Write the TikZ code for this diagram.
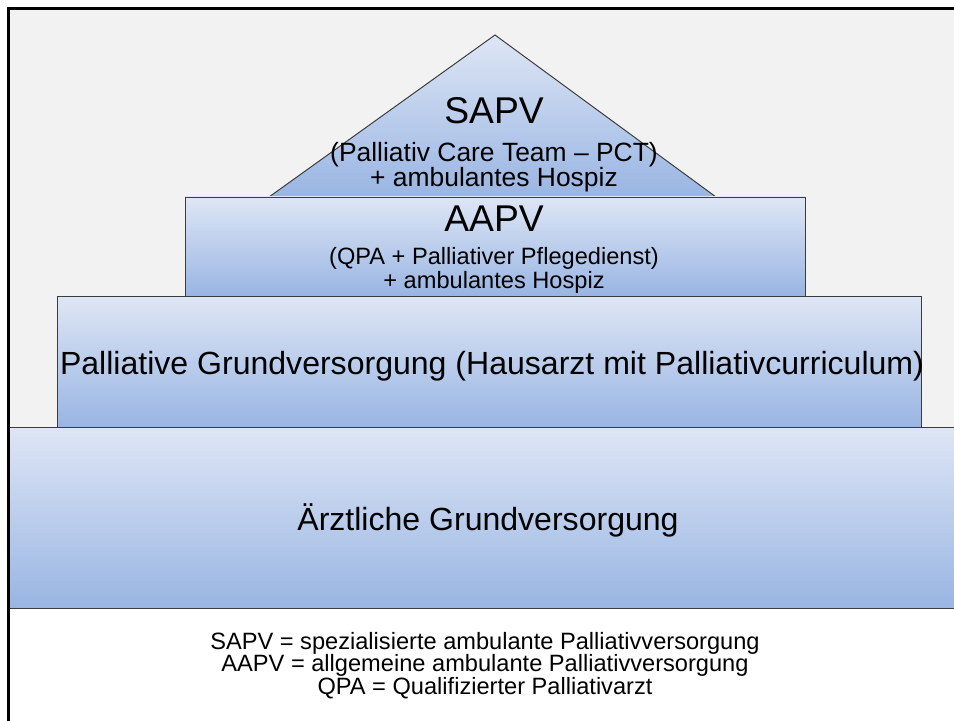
\documentclass[tikz,border=0pt]{standalone}
\usepackage{fontspec}
\setmainfont{Liberation Sans}
\usetikzlibrary{positioning}

\definecolor{slidegray}{RGB}{242,242,242}
\definecolor{layertop}{RGB}{222,230,245}
\definecolor{layerbottom}{RGB}{153,181,227}
\definecolor{layeredge}{RGB}{60,60,60}

\tikzset{
  layer/.style={draw=layeredge, line width=0.7pt, top color=layertop, bottom color=layerbottom, inner sep=0pt},
  layertext/.style={anchor=base, align=center, text=black, inner sep=0pt},
}

\begin{document}
\begin{tikzpicture}
        \useasboundingbox (0,0) rectangle (23.85,18);

        % Slide background
        \fill[slidegray] (0.2125,2.8) rectangle (24.5,17.8);

        % Roof (SAPV)
        \coordinate (apex) at (12.375,17.125);
        \coordinate (roofl) at (6.725,13.075);
        \coordinate (roofr) at (17.9,13.075);
        \draw[layer, line join=miter] (roofl) -- (apex) -- (roofr) -- cycle;

        % Levels of the pyramid
        \node[layer, minimum width=15.5cm, minimum height=2.475cm] (aapv) at (12.375,11.8375) {};
        \node[layer, minimum width=21.6cm, minimum height=3.275cm] (pgv) at (12.225,8.9625) {};
        \node[layer, minimum width=23.95cm, minimum height=4.525cm] (aegv) at (12.2,5.0625) {};

        % Labels (base = last line)
        \node[layertext, font=\fontsize{18.8}{17.8}\selectfont] (sapvlbl) at (12.35,13.325)
            {{\fontsize{26.5}{30}\selectfont SAPV}\\[9.9pt] (Palliativ Care Team – PCT)\\ + ambulantes Hospiz};
        \node[layertext, font=\fontsize{16.8}{16.4}\selectfont] (aapvlbl) at (12.35,10.8)
            {{\fontsize{26.5}{30}\selectfont AAPV}\\[7.1pt] (QPA + Palliativer Pflegedienst)\\ + ambulantes Hospiz};
        \node[layertext, font=\fontsize{22.8}{27}\selectfont] (pgvlbl) at (12.3,8.65)
            {Palliative Grundversorgung (Hausarzt mit Palliativcurriculum)};
        \node[layertext, font=\fontsize{22.8}{27}\selectfont] (aegvlbl) at (12.2,4.75)
            {Ärztliche Grundversorgung};

        % Legend
        \node[layertext, font=\fontsize{16.8}{16}\selectfont] (legend) at (12.125,0.65)
            {SAPV = spezialisierte ambulante Palliativversorgung\\
             AAPV = allgemeine ambulante Palliativversorgung\\
             QPA = Qualifizierter Palliativarzt};

        % Slide frame
        \draw[black, line width=1.9pt, line join=miter] (0.2125,-0.5) -- (0.2125,17.7875) -- (24.5,17.7875);
    \end{tikzpicture}
\end{document}
